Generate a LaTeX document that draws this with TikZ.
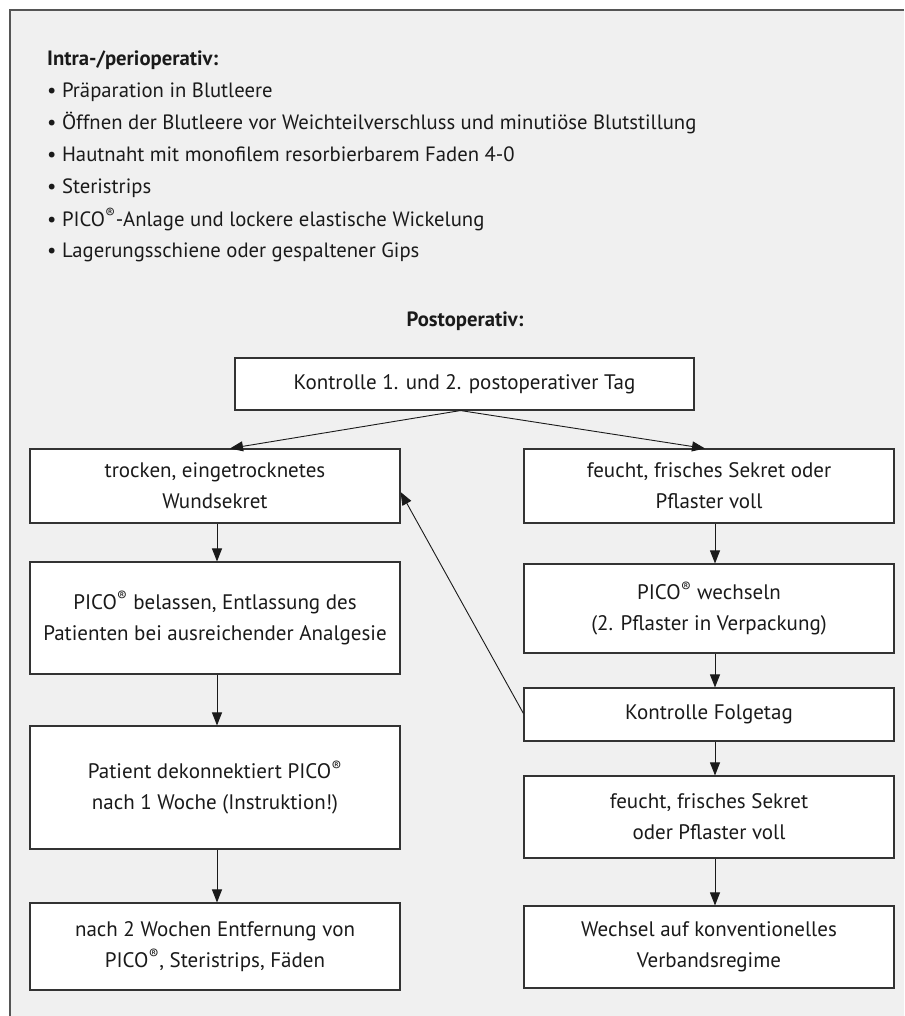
\documentclass[tikz,border=0pt]{standalone}
\usepackage{fontspec}
\setmainfont{PT Sans}
\usetikzlibrary{arrows.meta}
\definecolor{bg}{HTML}{F0F0F0}
\definecolor{framecol}{HTML}{555555}
\definecolor{boxline}{HTML}{333333}
\definecolor{txt}{HTML}{1A1A1A}
\newcommand{\regmark}{\textsuperscript{®}}
\begin{document}
\begin{tikzpicture}[x=1pt,y=-1pt,
  box/.style={draw=boxline, line width=1.1pt, fill=white, align=center, inner sep=0pt,
    font=\fontsize{21}{31}\selectfont, text=txt, minimum width=370pt},
  arr/.style={-{Triangle[length=13pt,width=10pt]}, line width=0.9pt, draw=txt},
  listline/.style={anchor=base west, font=\fontsize{20.7}{32}\selectfont, text=txt, inner sep=0pt},
  heading/.style={font=\fontsize{20.7}{32}\selectfont\bfseries, text=txt, inner sep=0pt}]
\useasboundingbox (0,0) rectangle (904,1016);
\fill[bg] (10,10) rectangle (904,1016);
\draw[framecol, line width=1.5pt] (10,1016) -- (10,10) -- (904,10);

% intra-/perioperative list
\node[heading, anchor=base west] (h1) at (47,66) {Intra-/perioperativ:};
\node[listline] (b1) at (47,98)  {• Präparation in Blutleere};
\node[listline] (b2) at (47,130) {• Öffnen der Blutleere vor Weichteilverschluss und minutiöse Blutstillung};
\node[listline] (b3) at (47,162) {• Hautnaht mit monofilem resorbierbarem Faden 4-0};
\node[listline] (b4) at (47,194) {• Steristrips};
\node[listline] (b5) at (47,226) {• PICO\regmark-Anlage und lockere elastische Wickelung};
\node[listline] (b6) at (47,258) {• Lagerungsschiene oder gespaltener Gips};

% postoperative
\node[heading] (h2) at (465,321) {Postoperativ:};
\node[box, minimum width=459pt, minimum height=52pt] (top) at (464.5,384) {Kontrolle 1. und 2. postoperativer Tag};

\node[box, minimum height=74pt] (L1) at (215,486) {trocken, eingetrocknetes\\Wundsekret};
\node[box, minimum height=112pt] (L2) at (215,618) {PICO\regmark{} belassen, Entlassung des\\Patienten bei ausreichender Analgesie};
\node[box, minimum height=123pt] (L3) at (215,787.5) {Patient dekonnektiert PICO\regmark\\nach 1 Woche (Instruktion!)};
\node[box, minimum height=87pt] (L4) at (215,946.5) {nach 2 Wochen Entfernung von\\PICO\regmark, Steristrips, Fäden};

\node[box, minimum height=74pt] (R1) at (709,486) {feucht, frisches Sekret oder\\Pflaster voll};
\node[box, minimum height=89pt] (R2) at (709,608.5) {PICO\regmark{} wechseln\\(2. Pflaster in Verpackung)};
\node[box, minimum height=53pt] (R3) at (709,714.5) {Kontrolle Folgetag};
\node[box, minimum height=82pt] (R4) at (709,817) {feucht, frisches Sekret\\oder Pflaster voll};
\node[box, minimum height=82pt] (R5) at (709,947) {Wechsel auf konventionelles\\Verbandsregime};

% connectors
\draw[arr] ([xshift=-4pt]top.south) -- ([xshift=15pt]L1.north);
\draw[arr] ([xshift=-4pt]top.south) -- ([xshift=-4pt]R1.north);
\draw[arr] ([xshift=2pt]L1.south) -- ([xshift=2pt]L2.north);
\draw[arr] ([xshift=2pt]L2.south) -- ([xshift=2pt]L3.north);
\draw[arr] ([xshift=2pt]L3.south) -- ([xshift=2pt]L4.north);
\draw[arr] ([xshift=6pt]R1.south) -- ([xshift=6pt]R2.north);
\draw[arr] ([xshift=6pt]R2.south) -- ([xshift=6pt]R3.north);
\draw[arr] ([xshift=6pt]R3.south) -- ([xshift=6pt]R4.north);
\draw[arr] ([xshift=6pt]R4.south) -- ([xshift=6pt]R5.north);
\draw[arr] ([yshift=1pt]R3.west) -- ([yshift=-6pt]L1.east);
\end{tikzpicture}
\end{document}
